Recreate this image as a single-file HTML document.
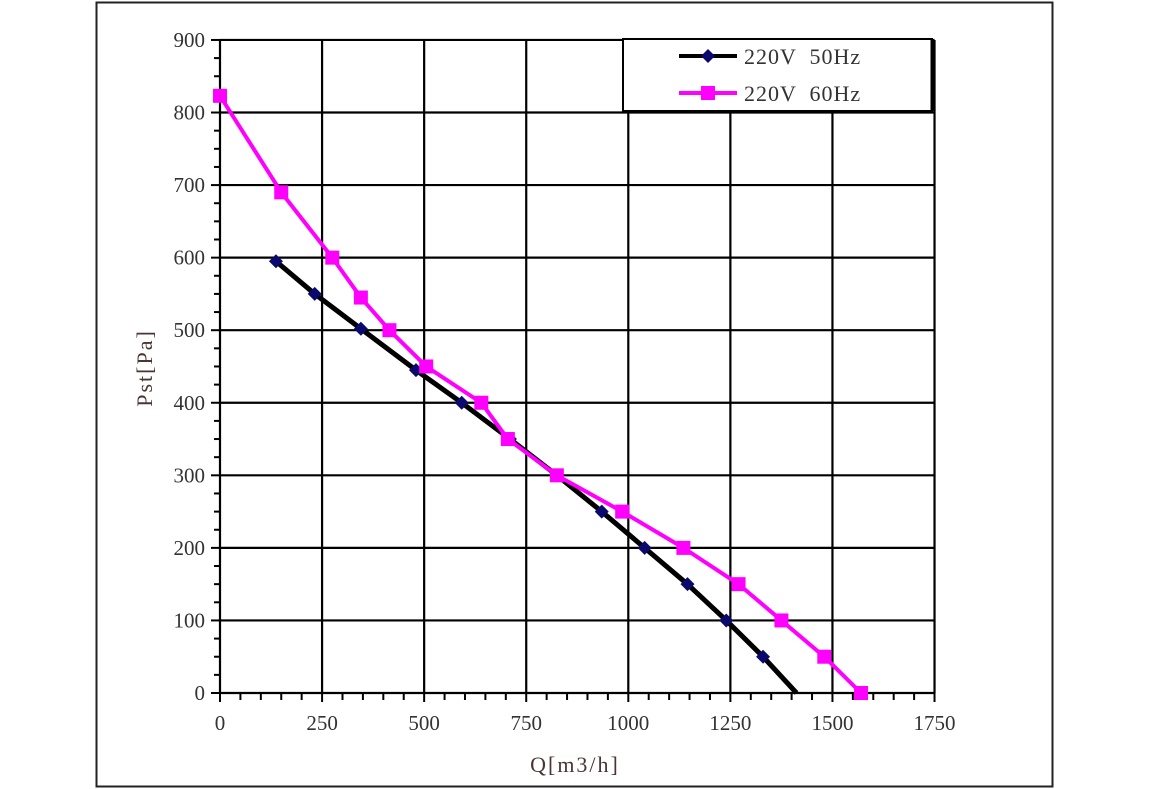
<!DOCTYPE html>
<html><head><meta charset="utf-8"><style>body{margin:0;background:#fff}svg{display:block}text{font-family:"Liberation Serif",serif;fill:#333}</style></head><body>
<svg width="1150" height="789" viewBox="0 0 1150 789" xmlns="http://www.w3.org/2000/svg">
<rect x="96.5" y="2.5" width="956" height="784" fill="#fff" stroke="#222" stroke-width="2"/>
<g id="grid" stroke="#000" stroke-width="2.2"></g>
<g id="ticks" stroke="#000" stroke-width="2"></g>
<g id="labels" font-size="21"></g>
<text x="575" y="772" font-size="22" text-anchor="middle" letter-spacing="2" style="fill:#4a3535">Q[m3/h]</text>
<text transform="translate(152,368) rotate(-90)" font-size="22" text-anchor="middle" letter-spacing="2" style="fill:#4a3535">Pst[Pa]</text>
<g id="series"></g>
<rect x="623" y="39" width="309" height="72" fill="#fff" stroke="#000" stroke-width="2"/>
<line x1="932" y1="39" x2="932" y2="111" stroke="#000" stroke-width="3"/>
<line x1="679" y1="56" x2="737" y2="56" stroke="#000" stroke-width="4"/>
<polygon points="708,49 715,56 708,63 701,56" fill="#0a0a6e"/>
<line x1="679" y1="93" x2="737" y2="93" stroke="#f0f" stroke-width="4"/>
<rect x="701" y="86" width="14" height="14" fill="#f0f"/>
<text x="744" y="64" font-size="22" letter-spacing="1" xml:space="preserve">220V  50Hz</text>
<text x="744" y="101" font-size="22" letter-spacing="1" xml:space="preserve">220V  60Hz</text>
</svg>
<script>
const X=v=>220+v*0.4083, Y=v=>693-v*0.7256, ns="http://www.w3.org/2000/svg";
function el(p,t,a){const e=document.createElementNS(ns,t);for(const k in a)e.setAttribute(k,a[k]);document.getElementById(p).appendChild(e);return e;}
for(let v=0;v<=1750;v+=250){el("grid","line",{x1:X(v),y1:Y(900),x2:X(v),y2:Y(0)});const t=el("labels","text",{x:X(v),y:730,"text-anchor":"middle"});t.textContent=v;}
for(let v=0;v<=900;v+=100){el("grid","line",{x1:X(0),y1:Y(v),x2:X(1750),y2:Y(v)});const t=el("labels","text",{x:205,y:Y(v)+7,"text-anchor":"end"});t.textContent=v;}
for(let v=0;v<=1750;v+=50){const m=v%250==0;el("ticks","line",{x1:X(v),y1:693,x2:X(v),y2:m?702:700});}
for(let v=0;v<=900;v+=25){const m=v%100==0;el("ticks","line",{x1:m?211:214,y1:Y(v),x2:220,y2:Y(v)});}
const a=[[137,595],[232,550],[345,502],[480,445],[592,400],[710,350],[825,300],[935,250],[1040,200],[1145,150],[1240,100],[1330,50],[1412,0]];
const b=[[0,823],[150,690],[275,600],[345,545],[415,500],[505,450],[640,400],[705,350],[825,300],[985,250],[1135,200],[1270,150],[1375,100],[1480,50],[1570,0]];
el("series","polyline",{points:a.map(p=>X(p[0])+","+Y(p[1])).join(" "),fill:"none",stroke:"#000","stroke-width":5,"stroke-linejoin":"round"});
el("series","polyline",{points:b.map(p=>X(p[0])+","+Y(p[1])).join(" "),fill:"none",stroke:"#f0f","stroke-width":4,"stroke-linejoin":"round"});
a.slice(0,-1).forEach(p=>{const x=X(p[0]),y=Y(p[1]);el("series","polygon",{points:`${x},${y-7} ${x+7},${y} ${x},${y+7} ${x-7},${y}`,fill:"#0a0a6e"});});
b.forEach(p=>{el("series","rect",{x:X(p[0])-7,y:Y(p[1])-7,width:14,height:14,fill:"#f0f"});});
</script>
</body></html>
